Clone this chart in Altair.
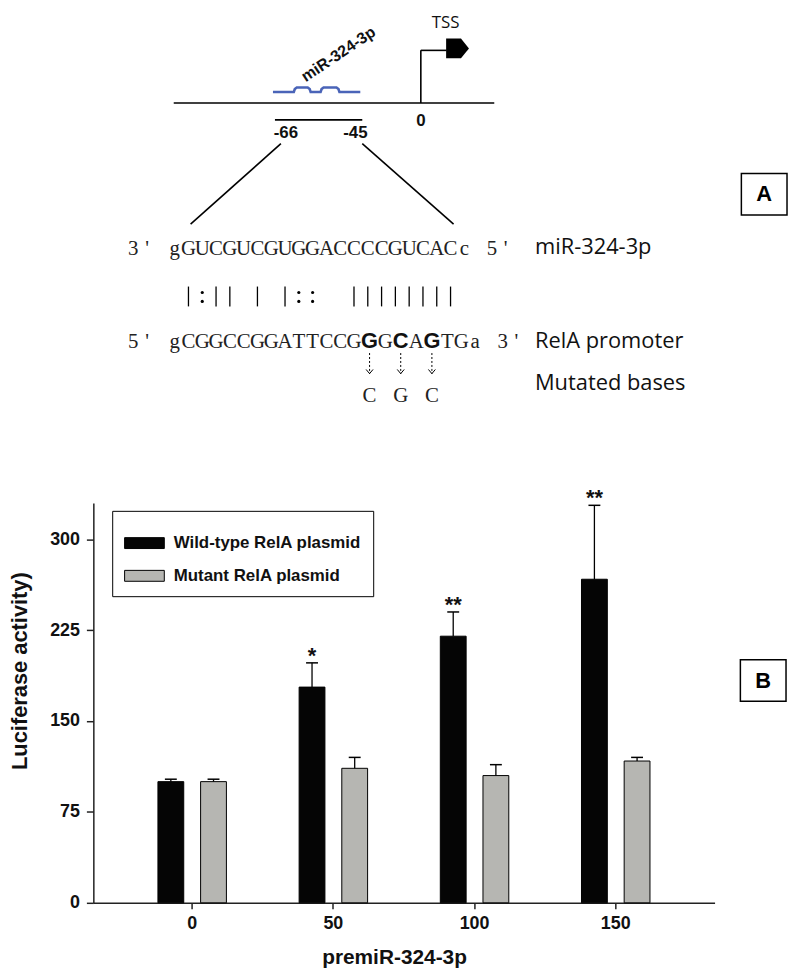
import altair as alt
import pandas as pd

# ---------------- data (panel B) ----------------
doses = ["0", "50", "100", "150"]
series = ["Wild-type RelA plasmid", "Mutant RelA plasmid"]
wild_type = [100, 178, 220, 267]
wild_type_err = [2, 20, 20, 61]
mutant = [100, 111, 105, 117]
mutant_err = [2, 9, 9, 3]
significance = ["", "*", "**", "**"]
y_ticks = [0, 75, 150, 225, 300]
bar_colors = ["#050505", "#b6b6b2"]

# ---------------- data (panel A) ----------------
mir_seq = "gGUCGUCGUGGACCCCGUCACc"
promoter_seq = "gCGGCCGGATTCCGGGCAGTGa"
pair_marks = " |:|| | |::  |||||||| "
mutated_idx = [14, 16, 18]
mutated_to = ["C", "G", "C"]
row_labels = ["miR-324-3p", "RelA promoter", "Mutated bases"]
site_labels = ["-66", "-45"]
tss_labels = ["TSS", "0"]
mir_label = "miR-324-3p"
panel_labels = ["A", "B"]

# ---------------- fonts ----------------
SEQF = "Liberation Serif"
SANS = "Open Sans"
ARIAL = "Liberation Sans"

# ---------------- panel B chart ----------------
rows = []
for i, d in enumerate(doses):
    rows.append(dict(dose=d, series=series[0], value=wild_type[i],
                     upper=wild_type[i] + wild_type_err[i], star=significance[i]))
    rows.append(dict(dose=d, series=series[1], value=mutant[i],
                     upper=mutant[i] + mutant_err[i], star=""))
bars_df = pd.DataFrame(rows)

x_enc = alt.X("dose:N", sort=doses,
              scale=alt.Scale(paddingInner=0, paddingOuter=0.2),
              axis=alt.Axis(title="premiR-324-3p", labelAngle=0, labelFont=ARIAL,
                            labelFontSize=18, labelFontWeight="bold", labelColor="#111",
                            labelPadding=6, tickSize=6, tickWidth=1.5, tickColor="#222",
                            domainColor="#222", domainWidth=1.5,
                            titleFont=ARIAL, titleFontSize=21, titleFontWeight="bold",
                            titleColor="#111", titleX=303, titleY=44, titleAnchor="middle",
                            titleAlign="center", titleBaseline="top"))
xoff_enc = alt.XOffset("series:N", sort=series,
                       scale=alt.Scale(paddingInner=0.395, paddingOuter=0.852))
y_scale = alt.Scale(domain=[0, 330], nice=False, zero=True)
y_axis = alt.Axis(title="Luciferase activity)", values=y_ticks, grid=False,
                  labelFont=ARIAL, labelFontSize=18, labelFontWeight="bold",
                  labelColor="#111", labelPadding=7, tickSize=7, tickWidth=1.5,
                  tickColor="#222", domainColor="#222", domainWidth=1.5,
                  titleFont=ARIAL, titleFontSize=22, titleFontWeight="bold",
                  titleColor="#111", titleX=-74, titleY=169, titleAngle=-90,
                  titleAlign="center", titleBaseline="middle")

legend = alt.Legend(title=None, orient="none", legendX=19, legendY=8,
                    direction="vertical", strokeColor="black", fillColor="white",
                    padding=12, labelFont=ARIAL, labelFontSize=17,
                    labelFontWeight="bold", labelColor="#111", labelLimit=0,
                    labelOffset=9, rowPadding=4,
                    symbolType="M-1,-0.275H1V0.275H-1Z", symbolSize=1600,
                    symbolStrokeColor="black", symbolStrokeWidth=1,
                    symbolOpacity=1)

bars = alt.Chart(bars_df).mark_bar(stroke="black", strokeWidth=1).encode(
    x=x_enc, xOffset=xoff_enc,
    y=alt.Y("value:Q", scale=y_scale, axis=y_axis),
    color=alt.Color("series:N", sort=series,
                    scale=alt.Scale(domain=series, range=bar_colors), legend=legend),
)
err_rule = alt.Chart(bars_df).mark_rule(color="black", strokeWidth=1.3).encode(
    x=x_enc, xOffset=xoff_enc,
    y=alt.Y("value:Q", scale=y_scale, axis=y_axis), y2="upper:Q",
)
err_cap = alt.Chart(bars_df).mark_tick(color="black", size=12, thickness=1.5,
                                        opacity=1).encode(
    x=x_enc, xOffset=xoff_enc,
    y=alt.Y("upper:Q", scale=y_scale, axis=y_axis),
)
stars = alt.Chart(bars_df).mark_text(font=ARIAL, fontSize=22, fontWeight="bold",
                                     baseline="alphabetic", dy=0, color="#111").encode(
    x=x_enc, xOffset=xoff_enc,
    y=alt.Y("upper:Q", scale=y_scale, axis=y_axis),
    text="star:N",
)
bar_group = alt.layer(bars, err_rule, err_cap, stars)

# ---------------- panel A diagram (page-pixel schematic scale) ----------------
xs_scale = alt.Scale(domain=[94, 720], nice=False, zero=False)
ys_scale = alt.Scale(domain=[503, 906], reverse=True, nice=False, zero=False)


def X(f="x"):
    return alt.X(f"{f}:Q", scale=xs_scale, axis=None)


def Y(f="y"):
    return alt.Y(f"{f}:Q", scale=ys_scale, axis=None)


# layout constants
GENE_Y, GENE_X0, GENE_X1 = 100, 175, 498
TSS_X, TSS_TOP, TSS_ARM = 424, 47, 450
SITE_X0, SITE_X1, SITE_Y = 277, 365, 117
COL = 13.9
SEQ_X0 = 169.0
BOLD_W = 17.5
ROW1_Y, ROW3_Y = 253, 347
PAIR_Y0, PAIR_Y1 = 285, 305
DOT_YS = [291, 300]
ARROW_Y0, ARROW_Y1 = 352, 373
MUT_Y = 401
LABEL_X = 539


def row_centers(n, bold=()):
    xs, left = [], SEQ_X0
    for i in range(n):
        w = BOLD_W if i in bold else COL
        xs.append(left + w / 2)
        left += w
    return xs, left


r1_x, r1_end = row_centers(len(mir_seq))
r3_x, r3_end = row_centers(len(promoter_seq), set(mutated_idx))

mono_rows = []
for i, ch in enumerate(mir_seq):
    mono_rows.append(dict(x=r1_x[i], y=ROW1_Y, t=ch))
for i, ch in enumerate(promoter_seq):
    if i not in mutated_idx:
        mono_rows.append(dict(x=r3_x[i], y=ROW3_Y, t=ch))
for (yy, end, tail, head) in [(ROW1_Y, r1_end, "5", "3"), (ROW3_Y, r3_end, "3", "5")]:
    mono_rows.append(dict(x=SEQ_X0 - 2.5 * COL, y=yy, t=head))
    mono_rows.append(dict(x=SEQ_X0 - 1.5 * COL, y=yy, t="'"))
    mono_rows.append(dict(x=end + 1.5 * COL, y=yy, t=tail))
    mono_rows.append(dict(x=end + 2.5 * COL, y=yy, t="'"))
for k, i in enumerate(mutated_idx):
    mono_rows.append(dict(x=r3_x[i], y=MUT_Y, t=mutated_to[k]))
mono_df = pd.DataFrame(mono_rows)

bold_df = pd.DataFrame([dict(x=r3_x[i], y=ROW3_Y, t=promoter_seq[i]) for i in mutated_idx])

# line segments
segs = [
    (GENE_X0, GENE_Y, GENE_X1, GENE_Y),
    (TSS_X, GENE_Y, TSS_X, TSS_TOP),
    (TSS_X, TSS_TOP, TSS_ARM, TSS_TOP),
    (SITE_X0, SITE_Y, SITE_X1, SITE_Y),
    (283, 141, 192, 222),
    (365, 141, 457, 222),
]
seg_df = pd.DataFrame(segs, columns=["x", "y", "x2", "y2"])

bar_rows, dot_rows = [], []
for i, m in enumerate(pair_marks):
    cx = r1_x[i]
    if m == "|":
        bar_rows.append(dict(x=cx, y=PAIR_Y0, x2=cx, y2=PAIR_Y1))
    elif m == ":":
        for dy in DOT_YS:
            dot_rows.append(dict(x=cx, y=dy))
pair_df = pd.DataFrame(bar_rows)
dot_df = pd.DataFrame(dot_rows)

arrow_df = pd.DataFrame([dict(x=r3_x[i], y=ARROW_Y0, x2=r3_x[i], y2=ARROW_Y1) for i in mutated_idx])
head_df = pd.DataFrame([dict(x=r3_x[i], y=ARROW_Y1 - 2) for i in mutated_idx])

wave_pts = [(275, 89), (296, 89), (297, 86), (299, 84.5), (310, 84.5), (312, 86),
            (313, 89), (323, 89), (324, 86), (326, 84.5), (339, 84.5), (341, 86),
            (342, 89), (363, 89)]
wave_df = pd.DataFrame([dict(x=a, y=b, o=k) for k, (a, b) in enumerate(wave_pts)])

tss_head_df = pd.DataFrame([dict(x=461, y=45)])

box_df = pd.DataFrame([dict(x=747, y=171, x2=793, y2=213, t=panel_labels[0], cx=770, cy=192),
                       dict(x=746, y=661, x2=792, y2=703, t=panel_labels[1], cx=769, cy=683)])

sans_df = pd.DataFrame([
    dict(x=LABEL_X, y=252, t=row_labels[0]),
    dict(x=LABEL_X, y=347, t=row_labels[1]),
    dict(x=LABEL_X, y=389, t=row_labels[2]),
])
tss_df = pd.DataFrame([dict(x=449, y=24, t=tss_labels[0])])
num_df = pd.DataFrame([
    dict(x=TSS_X, y=118, t=tss_labels[1]),
    dict(x=288, y=130, t=site_labels[0]),
    dict(x=358, y=130, t=site_labels[1]),
])
mirlab_df = pd.DataFrame([dict(x=341, y=51, t=mir_label)])

diagram = alt.layer(
    alt.Chart(seg_df).mark_rule(color="black", strokeWidth=1.6).encode(
        x=X(), y=Y(), x2="x2:Q", y2="y2:Q"),
    alt.Chart(wave_df).mark_line(color="#4a64b8", strokeWidth=2.6).encode(
        x=X(), y=Y(), order="o:Q"),
    alt.Chart(tss_head_df).mark_point(shape="M-1,-0.87L0.3,-0.87L1,0L0.3,0.87L-1,0.87Z",
                                      filled=True, color="black", opacity=1,
                                      size=529).encode(x=X(), y=Y()),
    alt.Chart(pair_df).mark_rule(color="black", strokeWidth=1.3).encode(
        x=X(), y=Y(), x2="x2:Q", y2="y2:Q"),
    alt.Chart(dot_df).mark_circle(color="black", size=10, opacity=1).encode(x=X(), y=Y()),
    alt.Chart(arrow_df).mark_rule(color="black", strokeWidth=1, strokeDash=[2, 2]).encode(
        x=X(), y=Y(), x2="x2:Q", y2="y2:Q"),
    alt.Chart(head_df).mark_point(shape="M-1,-0.7L0,0.5L1,-0.7", filled=False,
                                  color="black", strokeWidth=1, size=49,
                                  opacity=1).encode(x=X(), y=Y()),
    alt.Chart(box_df).mark_rect(fill="white", stroke="black", strokeWidth=1.5).encode(
        x=X(), y=Y(), x2="x2:Q", y2="y2:Q"),
    alt.Chart(box_df).mark_text(font=ARIAL, fontSize=22, fontWeight="bold",
                                baseline="middle", color="black").encode(
        x=X("cx"), y=Y("cy"), text="t:N"),
    alt.Chart(mono_df).mark_text(font=SEQF, fontSize=21, baseline="alphabetic",
                                 align="center", color="#222").encode(
        x=X(), y=Y(), text="t:N"),
    alt.Chart(bold_df).mark_text(font=ARIAL, fontSize=22, fontWeight="bold",
                                 baseline="alphabetic", align="center",
                                 color="#111").encode(x=X(), y=Y(), text="t:N"),
    alt.Chart(sans_df).mark_text(font=SANS, fontSize=22, baseline="alphabetic",
                                 align="left", color="#111").encode(
        x=X(), y=Y(), text="t:N"),
    alt.Chart(tss_df).mark_text(font=SANS, fontSize=17, baseline="alphabetic",
                                align="center", color="#111").encode(
        x=X(), y=Y(), text="t:N"),
    alt.Chart(num_df).mark_text(font=ARIAL, fontSize=17, fontWeight="bold",
                                baseline="middle", align="center",
                                color="#111").encode(x=X(), y=Y(), text="t:N"),
    alt.Chart(mirlab_df).mark_text(font=ARIAL, fontSize=16, fontWeight="bold",
                                   baseline="middle", align="center", angle=326,
                                   color="#111").encode(x=X(), y=Y(), text="t:N"),
)

chart = alt.layer(bar_group, diagram).resolve_scale(
    x="independent", y="independent"
).properties(
    width=626, height=403,
    padding={"left": 86, "top": 495, "right": 75, "bottom": 64},
    autosize=alt.AutoSizeParams(type="none"),
).configure(background="white").configure_view(stroke=None, strokeWidth=0)

chart.save("out.html", embed_options={"renderer": "svg", "actions": False})
